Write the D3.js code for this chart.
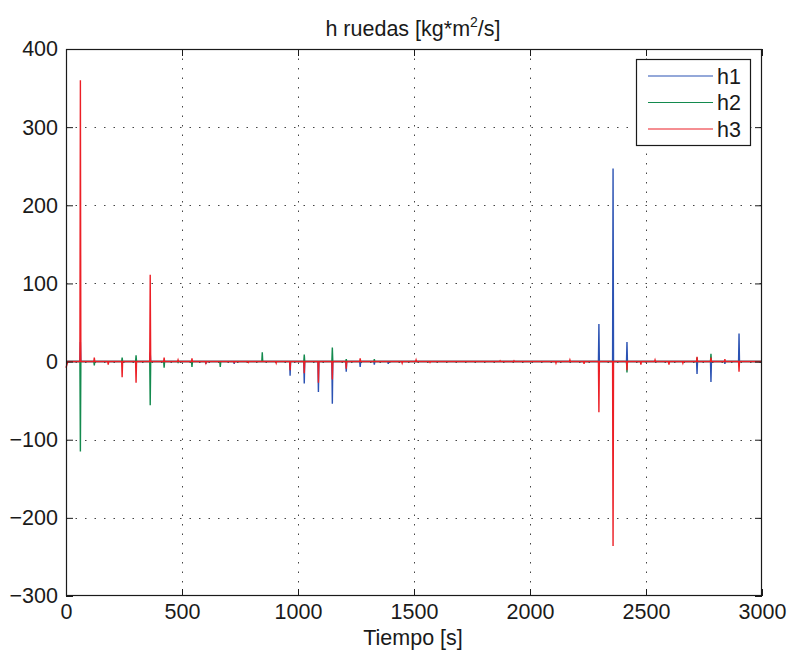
<!DOCTYPE html>
<html>
<head>
<meta charset="utf-8">
<script src="https://cdn.jsdelivr.net/npm/d3@7"></script>
<style>
  html, body { margin: 0; padding: 0; background: #fff; }
  text { font-family: "Liberation Sans", Arial, Helvetica, sans-serif; fill: #1a1a1a; }
</style>
</head>
<body>
<svg id="chart" width="788" height="657"></svg>
<script>
// ---- data ----
const spikeTimes = [62, 122, 182, 242, 302, 363, 423, 483, 543, 603, 665, 725, 786, 846, 906, 966, 1027, 1088, 1148, 1208, 1268, 1329, 1389, 1449, 1509, 1569, 1871, 1931, 2112, 2172, 2233, 2297, 2358, 2418, 2478, 2539, 2599, 2659, 2720, 2780, 2840, 2901];
const h1Values = [25, 0, 0, 0, 0, 12, 0, 0, 0, -3, 0, -3, 0, 0, 0, -18, -28, -39, -54, -13, -7, -4, -3, 0, 0, 0, 0, 0, 0, 0, 0, 48, 247, 25, 0, 0, 0, 0, -16, -26, -3, 36];
const h2Values = [-115, -5, 0, 5, 8, -56, -8, -1, -7, 0, -7, 0, 0, 12, 0, 0, 9, 0, 18, 3, 0, 3, 0, 0, 0, 0, 0, 0, 0, 0, 0, 0, 0, -14, 0, 0, 0, 0, 5, 10, 0, 0];
const h3Values = [360, 5, -4, -20, -27, 111, 5, 2, 4, -2, 0, -1, -1, 0, -2, -11, -15, -27, -23, -9, 4, 0, 0, -2, 2, -1, 1, 1, -2, 2, -3, -65, -236, -11, -4, 2, -4, -2, 6, 5, 3, -13];
const h3Start = -8;
const seriesNames = ["h1", "h2", "h3"];
const seriesColors = ["#2b52b3", "#138a4e", "#ec1f26"];
const xTicks = [0, 500, 1000, 1500, 2000, 2500, 3000];
const yTicks = [-300, -200, -100, 0, 100, 200, 300, 400];
const xDomain = [0, 3000];
const yDomain = [-300, 400];
const titleMain = "h ruedas [kg*m";
const titleSup = "2";
const titleEnd = "/s]";
const xLabel = "Tiempo [s]";

// ---- layout ----
const L = 66, R = 762, T = 49, B = 596;
const FS = 21.5;
const svg = d3.select("#chart");
const x = d3.scaleLinear().domain(xDomain).range([L, R]);
const y = d3.scaleLinear().domain(yDomain).range([B, T]);

// grid (dotted)
const grid = svg.append("g");
grid.selectAll("line.gx").data(xTicks.slice(1, -1)).join("line")
  .attr("x1", d => Math.round(x(d)) + 0.5).attr("x2", d => Math.round(x(d)) + 0.5)
  .attr("y1", T).attr("y2", B)
  .attr("stroke", "#444").attr("stroke-width", 1).attr("stroke-dasharray", "1.5,8");
grid.selectAll("line.gy").data(yTicks.slice(1, -1)).join("line")
  .attr("x1", L).attr("x2", R)
  .attr("y1", d => Math.round(y(d)) + 0.5).attr("y2", d => Math.round(y(d)) + 0.5)
  .attr("stroke", "#444").attr("stroke-width", 1).attr("stroke-dasharray", "1.5,8");

// series lines
const hw = 2.0;
function buildSeries(vals, startVal) {
  const pts = [[xDomain[0], startVal], [8, 0]];
  spikeTimes.forEach((t, i) => {
    pts.push([t - hw, 0]);
    pts.push([t, vals[i]]);
    pts.push([t + hw, 0]);
  });
  pts.push([xDomain[1], 0]);
  return pts;
}
const allSeries = [buildSeries(h1Values, 0), buildSeries(h2Values, 0), buildSeries(h3Values, h3Start)];
const line = d3.line().x(d => x(d[0])).y(d => y(d[1]));
const plot = svg.append("g");
allSeries.forEach((pts, i) => {
  plot.append("path").datum(pts)
    .attr("d", line).attr("fill", "none")
    .attr("stroke", seriesColors[i]).attr("stroke-width", 1.4)
    .attr("stroke-linejoin", "miter");
});

// axes box
svg.append("rect").attr("x", L + 0.5).attr("y", T + 0.5)
  .attr("width", R - L - 1).attr("height", B - T - 1)
  .attr("fill", "none").attr("stroke", "#1a1a1a").attr("stroke-width", 1.2);

// ticks inside (bottom/top, left/right) using d3 axes
const tickLen = 7;
const axB = svg.append("g").attr("transform", `translate(0,${B})`)
  .call(d3.axisBottom(x).tickValues(xTicks).tickSize(-tickLen).tickPadding(8).tickFormat(d3.format("d")));
const axT = svg.append("g").attr("transform", `translate(0,${T})`)
  .call(d3.axisTop(x).tickValues(xTicks).tickSize(-tickLen).tickFormat(""));
const axL = svg.append("g").attr("transform", `translate(${L},0)`)
  .call(d3.axisLeft(y).tickValues(yTicks).tickSize(-tickLen).tickPadding(8)
    .tickFormat(d => d < 0 ? "\u2212" + Math.abs(d) : String(d)));
const axR = svg.append("g").attr("transform", `translate(${R},0)`)
  .call(d3.axisRight(y).tickValues(yTicks).tickSize(-tickLen).tickFormat(""));
[axB, axT, axL, axR].forEach(a => {
  a.select(".domain").remove();
  a.selectAll(".tick line").attr("stroke", "#1a1a1a");
  a.selectAll("text").attr("font-size", FS).attr("fill", "#1a1a1a")
    .attr("font-family", "'Liberation Sans', Arial, sans-serif");
});

// title
const title = svg.append("text").attr("x", 413).attr("y", 36)
  .attr("text-anchor", "middle").attr("font-size", FS);
title.append("tspan").text(titleMain);
title.append("tspan").attr("dy", -9).attr("font-size", 14).text(titleSup);
title.append("tspan").attr("dy", 9).text(titleEnd);

// x label
svg.append("text").attr("x", 413).attr("y", 645)
  .attr("text-anchor", "middle").attr("font-size", FS).text(xLabel);

// legend
const lg = svg.append("g");
lg.append("rect").attr("x", 636.5).attr("y", 59.5).attr("width", 114).attr("height", 86)
  .attr("fill", "#fff").attr("stroke", "#1a1a1a").attr("stroke-width", 1.2);
seriesNames.forEach((n, i) => {
  const yy = 76 + i * 26.5;
  lg.append("line").attr("x1", 648).attr("x2", 713).attr("y1", yy).attr("y2", yy)
    .attr("stroke", seriesColors[i]).attr("stroke-width", 1.1);
  lg.append("text").attr("x", 717).attr("y", yy + 7.5).attr("font-size", FS).text(n);
});
</script>
</body>
</html>
